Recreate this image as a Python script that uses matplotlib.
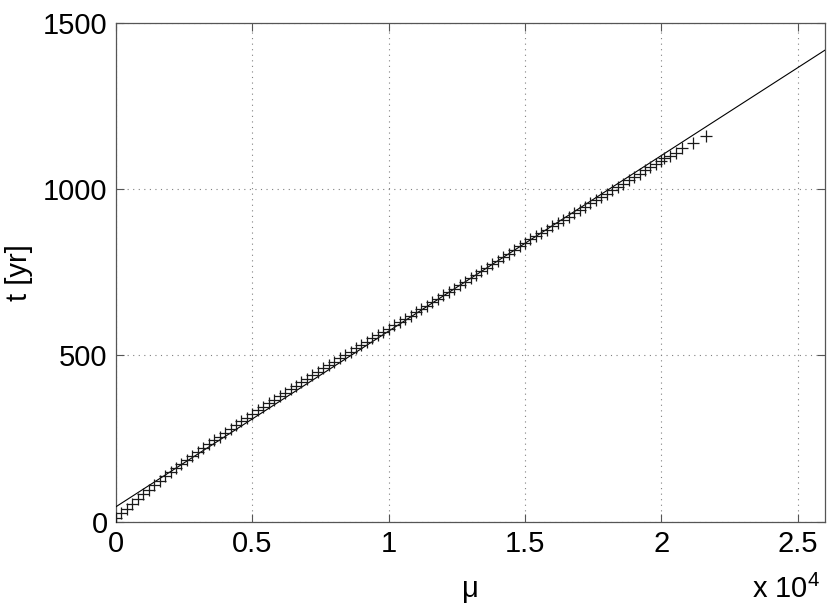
import matplotlib
matplotlib.use("Agg")
import matplotlib.pyplot as plt
from matplotlib.ticker import FuncFormatter

# --- data ---
mu_obs = [0, 200, 400, 600, 800, 1000, 1200, 1400, 1600, 1800,
          2000, 2200, 2400, 2600, 2800, 3000, 3200, 3400, 3600, 3800,
          4000, 4200, 4400, 4600, 4800, 5000, 5200, 5400, 5600, 5800,
          6000, 6200, 6400, 6600, 6800, 7000, 7200, 7400, 7600, 7800,
          8000, 8200, 8400, 8600, 8800, 9000, 9200, 9400, 9600, 9800,
          10000, 10200, 10400, 10600, 10800, 11000, 11200, 11400, 11600, 11800,
          12000, 12200, 12400, 12600, 12800, 13000, 13200, 13400, 13600, 13800,
          14000, 14200, 14400, 14600, 14800, 15000, 15200, 15400, 15600, 15800,
          16000, 16200, 16400, 16600, 16800, 17000, 17200, 17400, 17600, 17800,
          18000, 18200, 18400, 18600, 18800, 19000, 19200, 19400, 19600, 19800,
          20000, 20100, 20300, 20550, 20750, 21150, 21650]
t_obs = [10, 25, 39, 54, 68, 83, 96, 110, 123, 137,
         150, 162, 174, 186, 198, 210, 222, 233, 245, 256,
         268, 279, 290, 302, 313, 324, 335, 346, 356, 367,
         378, 388, 399, 409, 420, 430, 440, 450, 461, 471,
         481, 491, 501, 511, 521, 531, 541, 551, 560, 570,
         580, 590, 600, 609, 619, 629, 639, 649, 660, 670,
         680, 690, 700, 711, 721, 731, 742, 752, 763, 773,
         784, 795, 805, 816, 827, 838, 848, 858, 868, 878,
         888, 898, 908, 917, 927, 937, 947, 957, 966, 976,
         986, 996, 1006, 1016, 1026, 1036, 1046, 1056, 1065, 1075,
         1085, 1092, 1100, 1108, 1122, 1138, 1158]

mu_fit = [0, 26000]
t_fit = [45, 1417]

x_ticks = [0, 5000, 10000, 15000, 20000, 25000]
y_ticks = [0, 500, 1000, 1500]

plt.rcParams['font.family'] = ['Liberation Sans', 'DejaVu Sans']
plt.rcParams['mathtext.fontset'] = 'custom'
plt.rcParams['mathtext.rm'] = 'Liberation Sans'
plt.rcParams['mathtext.it'] = 'Liberation Sans'

fig = plt.figure(figsize=(8.30, 6.08), dpi=100)
ax = fig.add_axes([116/830, 1 - 521.7/608, (825 - 116)/830, (521.7 - 22.5)/608])

ax.plot(mu_fit, t_fit, color='black', lw=0.8, zorder=3)
ax.plot(mu_obs, t_obs, linestyle='none', marker='+', color='#1a1a1a',
        markersize=8, markeredgewidth=0.9, zorder=4)

ax.set_xlim(0, 26000)
ax.set_ylim(0, 1500)
ax.set_xticks(x_ticks)
ax.set_yticks(y_ticks)
ax.xaxis.set_major_formatter(FuncFormatter(lambda v, p: ('%g' % (v / 1e4))))
ax.grid(True, linestyle=(0, (1, 4)), color='#808080', lw=0.8)
ax.set_axisbelow(True)
ax.tick_params(direction='in', length=6, width=0.8, top=True, right=True,
               labelsize=21, pad=6, color='#555555')
for s in ax.spines.values():
    s.set_linewidth(0.9)
    s.set_color('#555555')

ax.set_xlabel('\u03bc', fontsize=21, labelpad=12)
ax.set_ylabel('t [yr]', fontsize=21, labelpad=7)
fig.text(820/830, 1 - 598/608, 'x 10$^{4}$', fontsize=21, ha='right', va='baseline')

fig.savefig('out.png', dpi=100)
